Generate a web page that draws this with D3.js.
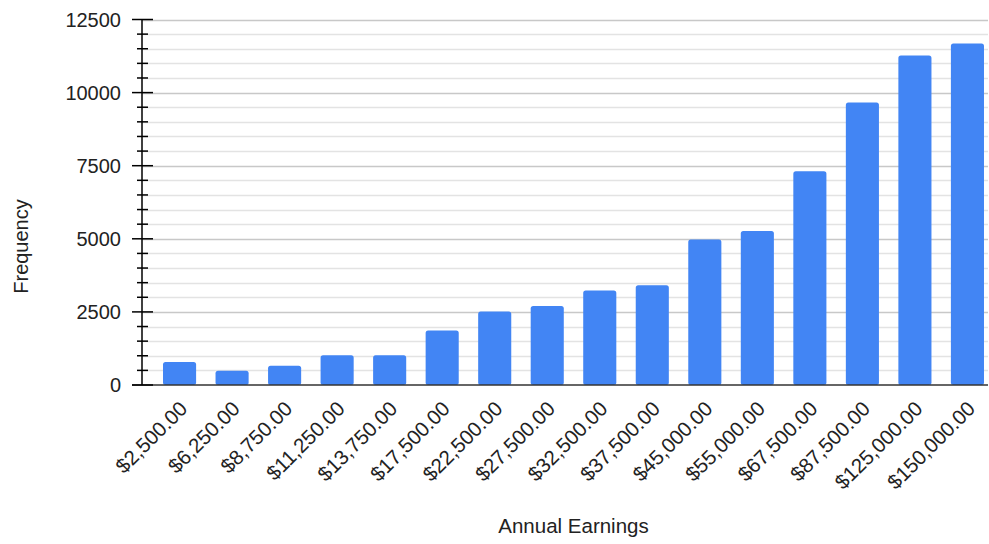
<!DOCTYPE html>
<html>
<head>
<meta charset="utf-8">
<script src="https://cdn.jsdelivr.net/npm/d3@7"></script>
<style>
  html, body { margin: 0; padding: 0; background: #fff; }
  svg { display: block; font-family: "Liberation Sans", Arial, sans-serif; }
</style>
</head>
<body>
<svg id="chart" width="989" height="544"></svg>
<script>
// Earnings brackets and how many people fall in each
const categories = ["$2,500.00", "$6,250.00", "$8,750.00", "$11,250.00", "$13,750.00",
  "$17,500.00", "$22,500.00", "$27,500.00", "$32,500.00", "$37,500.00", "$45,000.00",
  "$55,000.00", "$67,500.00", "$87,500.00", "$125,000.00", "$150,000.00"];
const frequencies = [790, 490, 660, 1020, 1020, 1860, 2510, 2700, 3230, 3410, 4980,
  5270, 7310, 9660, 11270, 11680];
const majorTicks = [0, 2500, 5000, 7500, 10000, 12500];
const minorStep = 500;
const xTitle = "Annual Earnings";
const yTitle = "Frequency";

const svg = d3.select("#chart");
const axisX = 142, plotTop = 19.5, base = 385, plotRight = 988;

const y = d3.scaleLinear().domain([0, 12500]).range([base, plotTop]);
const x = d3.scaleBand().domain(categories)
  .range([axisX, 1005]).paddingInner(0.37).paddingOuter(0.4);

const minorTicks = d3.range(0, 12500 + 1, minorStep);

// horizontal gridlines (light every 500, darker at labelled values)
svg.append("g").selectAll("line").data(minorTicks.filter(v => v > 0)).join("line")
  .attr("x1", axisX).attr("x2", plotRight)
  .attr("y1", d => Math.round(y(d)) + 0.5).attr("y2", d => Math.round(y(d)) + 0.5)
  .attr("stroke", d => d % 2500 === 0 ? "#c8c8c8" : "#e3e3e3")
  .attr("stroke-width", 1.4);

// bars
svg.append("g").selectAll("rect").data(frequencies).join("rect")
  .attr("x", (d, i) => x(categories[i]))
  .attr("width", x.bandwidth())
  .attr("y", d => y(d))
  .attr("height", d => base - y(d))
  .attr("rx", 2.5)
  .attr("fill", "#4285f4");

// baseline
svg.append("line").attr("x1", 132).attr("x2", plotRight)
  .attr("y1", base).attr("y2", base)
  .attr("stroke", "#333").attr("stroke-width", 1.5);

// y axis with major and minor ticks
const yAxisG = svg.append("g");
yAxisG.append("line").attr("x1", axisX).attr("x2", axisX)
  .attr("y1", y(12500)).attr("y2", base)
  .attr("stroke", "#000").attr("stroke-width", 1.5);
yAxisG.selectAll("line.tick").data(minorTicks).join("line")
  .attr("class", "tick")
  .attr("x1", d => d % 2500 === 0 ? 132 : 137)
  .attr("x2", d => d % 2500 === 0 ? 153 : 148)
  .attr("y1", d => y(d)).attr("y2", d => y(d))
  .attr("stroke", "#000").attr("stroke-width", 1.5);
yAxisG.selectAll("text").data(majorTicks).join("text")
  .attr("x", 121).attr("y", d => y(d))
  .attr("dy", "0.36em")
  .attr("text-anchor", "end")
  .attr("font-size", 20)
  .attr("fill", "#222")
  .text(d => d);

// rotated category labels
svg.append("g").selectAll("text").data(categories).join("text")
  .attr("transform", d => `translate(${x(d) + x.bandwidth() / 2 + 9},${410}) rotate(-45)`)
  .attr("text-anchor", "end")
  .attr("font-size", 20.5)
  .attr("fill", "#222")
  .text(d => d);

// axis titles
svg.append("text").attr("x", 573.5).attr("y", 533)
  .attr("text-anchor", "middle").attr("font-size", 20.5).attr("fill", "#222")
  .text(xTitle);
svg.append("text").attr("transform", "translate(28,246.5) rotate(-90)")
  .attr("text-anchor", "middle").attr("font-size", 20).attr("fill", "#222")
  .text(yTitle);
</script>
</body>
</html>
